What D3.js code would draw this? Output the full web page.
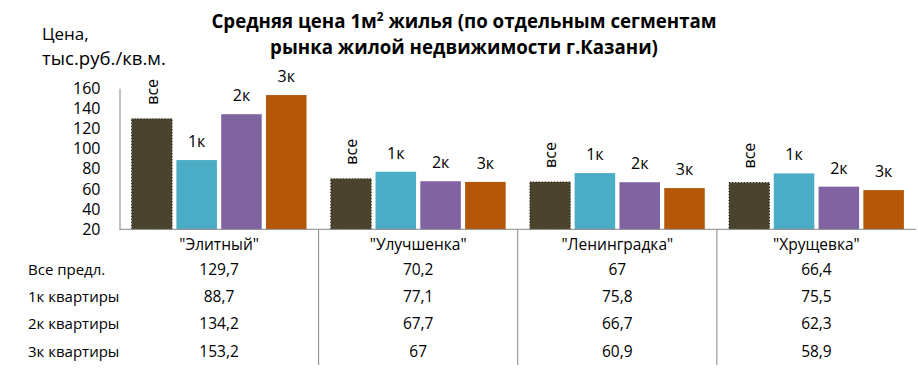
<!DOCTYPE html>
<html><head><meta charset="utf-8">
<script src="https://cdn.jsdelivr.net/npm/d3@7"></script>
<style>body{margin:0;background:#fff}svg{display:block}text{font-family:"Open Sans","Noto Sans",sans-serif;fill:#000}</style>
</head><body><svg id="c" width="918" height="371"></svg>
<script>
const categories = ['"Элитный"', '"Улучшенка"', '"Ленинградка"', '"Хрущевка"'];
const seriesNames = ["Все предл.", "1к квартиры", "2к квартиры", "3к квартиры"];
const seriesShort = ["все", "1к", "2к", "3к"];
const seriesColors = ["#4A432D", "#4BACC6", "#8064A2", "#B65708"];
const valAll = [129.7, 70.2, 67, 66.4];
const val1k = [88.7, 77.1, 75.8, 75.5];
const val2k = [134.2, 67.7, 66.7, 62.3];
const val3k = [153.2, 67, 60.9, 58.9];
const yTicks = [20, 40, 60, 80, 100, 120, 140, 160];
const series = [valAll, val1k, val2k, val3k];

const svg = d3.select("#c");
const L = 119.5, R = 916, B = 229.3, T = 88.2;
const x = d3.scaleBand().domain(categories).range([L, R]).paddingInner(0).paddingOuter(0);
const y = d3.scaleLinear().domain([20, 160]).range([B, T]);
const xs = d3.scaleBand().domain(d3.range(4)).range([0, x.bandwidth()]).paddingInner(0.095).paddingOuter(0.27);
const fmt = v => String(v).replace(".", ",");

function fitText(sel, w) {
  sel.each(function(){ const n=this; const l=n.getComputedTextLength(); const fs=parseFloat(n.getAttribute("font-size")); n.setAttribute("font-size", fs*w/l); });
}

// Title
const title = svg.append("g").attr("font-weight", "bold").attr("text-anchor", "middle");
const t1 = title.append("text").attr("x", 464).attr("y", 28).attr("font-size", 19);
t1.append("tspan").text("Средняя цена 1м");
t1.append("tspan").attr("dy", -7).attr("font-size", 12).text("2");
t1.append("tspan").attr("dy", 7).text(" жилья (по отдельным сегментам");
const t2 = title.append("text").attr("x", 464).attr("y", 54).attr("font-size", 19).text("рынка жилой недвижимости г.Казани)");
fitText(t2, 388);
t1.attr("font-size", t2.attr("font-size"));
t1.select("tspan:nth-child(2)").attr("font-size", +t2.attr("font-size")*0.63);

// Y axis title
svg.append("text").attr("x", 42).attr("y", 40).attr("font-size", 17).text("Цена,");
const ya = svg.append("text").attr("x", 42).attr("y", 65).attr("font-size", 17).text("тыс.руб./кв.м.");
fitText(ya, 124);

// Y axis
const yAxis = svg.append("g").attr("transform", `translate(${L},0)`)
  .call(d3.axisLeft(y).tickValues(yTicks).tickSize(0).tickPadding(19));
yAxis.select(".domain").attr("stroke", "#868686");
yAxis.selectAll("text").attr("font-size", 16).attr("font-family", '"Liberation Sans",Arial,sans-serif').attr("fill", "#000");

// Bars
const groups = svg.append("g").selectAll("g").data(categories).join("g")
  .attr("transform", d => `translate(${x(d)},0)`);
groups.each(function(cat, ci) {
  const g = d3.select(this);
  series.forEach((s, si) => {
    const v = s[ci];
    g.append("rect").attr("x", xs(si)).attr("width", xs.bandwidth())
      .attr("y", y(v)).attr("height", B - y(v)).attr("fill", seriesColors[si])
      .attr("stroke", si === 0 ? "#2a2618" : "none").attr("stroke-dasharray", si === 0 ? "1,2" : null).attr("stroke-width", si === 0 ? 1 : 0);
    const cx = xs(si) + xs.bandwidth() / 2;
    if (si === 0) {
      g.append("text").attr("transform", `translate(${cx + 6},${y(v) - 14}) rotate(-90)`)
        .attr("font-size", 16).attr("text-anchor", "start").text(seriesShort[si]);
    } else {
      g.append("text").attr("x", cx).attr("y", y(v) - 13).attr("font-size", 16)
        .attr("text-anchor", "middle").text(seriesShort[si]);
    }
  });
});

// X axis line
svg.append("line").attr("x1", L).attr("x2", R).attr("y1", B).attr("y2", B).attr("stroke", "#868686");
// Separators
categories.slice(1).forEach(c => {
  svg.append("line").attr("x1", x(c)).attr("x2", x(c)).attr("y1", B).attr("y2", 365).attr("stroke", "#868686");
});
// Category labels
svg.append("g").selectAll("text").data(categories).join("text")
  .attr("x", d => x(d) + x.bandwidth() / 2).attr("y", 250).attr("font-size", 15.5)
  .attr("text-anchor", "middle").text(d => d);

// Table
const rowY = [275, 302, 329, 357];
seriesNames.forEach((n, si) => {
  svg.append("text").attr("x", 28).attr("y", rowY[si]).attr("font-size", 15).text(n);
  svg.append("g").selectAll("text").data(categories).join("text")
    .attr("x", d => x(d) + x.bandwidth() / 2).attr("y", rowY[si]).attr("font-size", 15.5)
    .attr("text-anchor", "middle").text((d, ci) => fmt(series[si][ci]));
});
</script></body></html>
